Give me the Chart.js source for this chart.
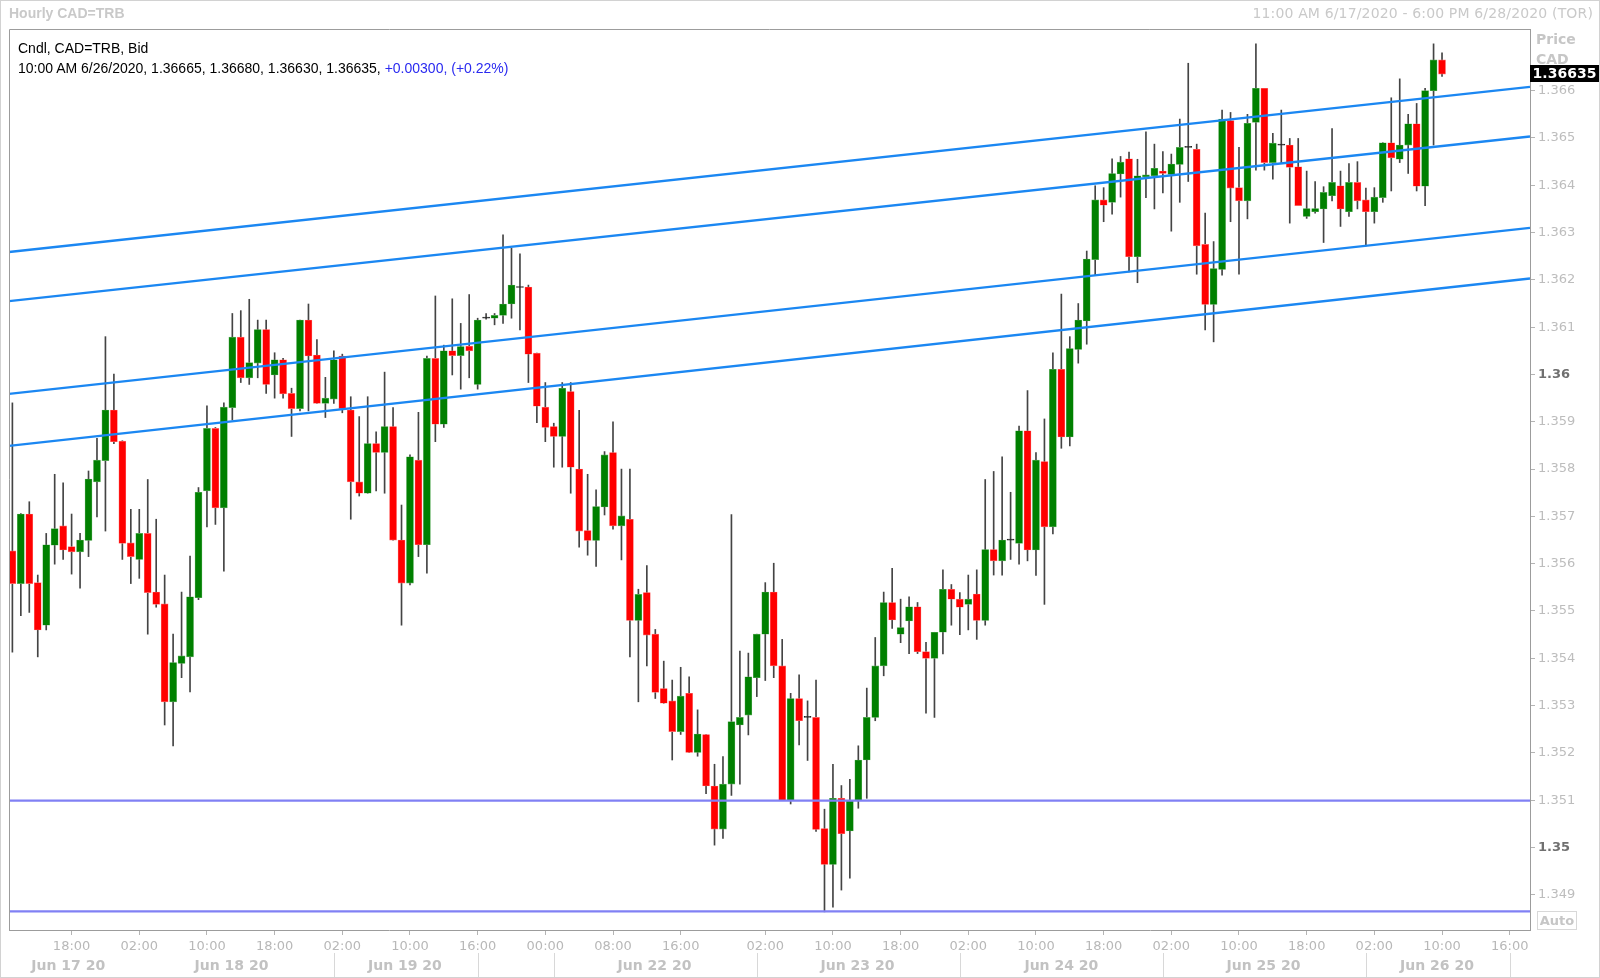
<!DOCTYPE html>
<html>
<head>
<meta charset="utf-8">
<title>Hourly CAD=TRB</title>
<script src="https://cdn.jsdelivr.net/npm/chart.js@4.4.1/dist/chart.umd.min.js"></script>
<style>
  html, body { margin: 0; padding: 0; background: #fff; }
  #wrap { position: relative; width: 1600px; height: 978px; overflow: hidden; background: #fff; }
  #chart { position: absolute; left: 0; top: 0; }
  #border { position: absolute; left: 0; top: 0; width: 1600px; height: 978px; box-sizing: border-box; border: 1px solid #d2d2d2; pointer-events: none; }
  .txt { position: absolute; white-space: nowrap; line-height: 16px; }
  #title { left: 9px; top: 5px; font: bold 14px "Liberation Sans", Arial, sans-serif; color: #c9c9c9; }
  #range { right: 7px; top: 5px; font: 14px "DejaVu Sans", Verdana, sans-serif; color: #c9c9c9; letter-spacing: 0.15px; }
  #legend1 { left: 18px; top: 40px; font: 14px "Liberation Sans", Arial, sans-serif; color: #000; }
  #legend2 { left: 18px; top: 60px; font: 14px "Liberation Sans", Arial, sans-serif; color: #000; }
  #legend2 span { color: #2a2af0; }
  .axtitle { left: 1536px; font: bold 14px "DejaVu Sans", Verdana, sans-serif; color: #c6c6c6; }
  #tag { position: absolute; left: 1530px; top: 65px; width: 69px; height: 17px; background: #000; color: #fff;
         font: bold 14px "DejaVu Sans", Verdana, sans-serif; line-height: 17px; text-align: center; }
  #auto { position: absolute; left: 1537px; top: 911px; width: 38px; height: 17px; border: 1px solid #d8d8d8;
          font: bold 13px "DejaVu Sans", Verdana, sans-serif; color: #c6c6c6; line-height: 17px; text-align: center; }
</style>
</head>
<body>
<div id="wrap">
  <canvas id="chart" width="1600" height="978"></canvas>
  <div id="border"></div>
  <div class="txt" id="title">Hourly CAD=TRB</div>
  <div class="txt" id="range">11:00 AM 6/17/2020 - 6:00 PM 6/28/2020 (TOR)</div>
  <div class="txt" id="legend1">Cndl, CAD=TRB, Bid</div>
  <div class="txt" id="legend2">10:00 AM 6/26/2020, 1.36665, 1.36680, 1.36630, 1.36635, <span>+0.00300, (+0.22%)</span></div>
  <div class="txt axtitle" style="top:31px">Price</div>
  <div class="txt axtitle" style="top:51px">CAD</div>
  <div id="tag">1.36635</div>
  <div id="auto">Auto</div>
</div>
<script>
// hourly candles, 11:00 6/17 .. 10:00 6/26 (weekend skipped)
const open = [
  1.35627,1.35558,1.35705,1.35560,1.35470,1.35639,1.35680,1.35636,1.35625,1.35649,
  1.35773,1.35818,1.35925,1.35859,1.35644,1.35609,1.35664,1.35540,1.35515,1.35308,
  1.35389,1.35403,1.35528,1.35754,1.35886,1.35718,1.35930,1.36079,1.35993,1.36024,
  1.36095,1.35999,1.36031,1.35960,1.35928,1.36115,1.36041,1.35939,1.35948,1.36039,
  1.35925,1.35773,1.35749,1.35854,1.35835,1.35890,1.35650,1.35559,1.35819,1.35640,
  1.36034,1.35895,1.36050,1.36040,1.36060,1.35979,1.36119,1.36119,1.36125,1.36149,
  1.36184,1.36185,1.36045,1.35931,1.35890,1.35869,1.35964,1.35800,1.35670,1.35649,
  1.35720,1.35835,1.35680,1.35694,1.35480,1.35539,1.35451,1.35336,1.35310,1.35245,
  1.35326,1.35201,1.35239,1.35130,1.35039,1.35134,1.35259,1.35280,1.35359,1.35451,
  1.35540,1.35384,1.35099,1.35315,1.35275,1.35275,1.35040,1.34964,1.35104,1.35035,
  1.35099,1.35185,1.35275,1.35384,1.35518,1.35451,1.35479,1.35509,1.35414,1.35400,
  1.35455,1.35546,1.35525,1.35514,1.35536,1.35480,1.35630,1.35606,1.35650,1.35643,
  1.35881,1.35629,1.35816,1.35678,1.36011,1.35868,1.36053,1.36113,1.36243,1.36369,
  1.36364,1.36424,1.36456,1.36249,1.36418,1.36420,1.36430,1.36423,1.36444,1.36480,
  1.36476,1.36275,1.36148,1.36222,1.36537,1.36395,1.36367,1.36533,1.36605,1.36448,
  1.36485,1.36485,1.36439,1.36334,1.36344,1.36350,1.36378,1.36399,1.36344,1.36406,
  1.36369,1.36344,1.36374,1.36490,1.36455,1.36485,1.36530,1.36398,1.36600,1.36665
];
const high = [
  1.35940,1.35706,1.35731,1.35576,1.35664,1.35789,1.35771,1.35705,1.35664,1.35796,
  1.35865,1.36080,1.36001,1.35860,1.35715,1.35715,1.35778,1.35694,1.35576,1.35451,
  1.35540,1.35616,1.35761,1.35934,1.35888,1.35940,1.36129,1.36135,1.36159,1.36115,
  1.36115,1.36046,1.36034,1.35971,1.36115,1.36149,1.36074,1.35994,1.36050,1.36043,
  1.35953,1.35911,1.35953,1.35879,1.36005,1.35930,1.35724,1.35830,1.35920,1.36039,
  1.36166,1.36062,1.36160,1.36108,1.36169,1.36119,1.36129,1.36129,1.36295,1.36267,
  1.36255,1.36189,1.36045,1.35983,1.35897,1.35983,1.35983,1.35924,1.35789,1.35756,
  1.35837,1.35900,1.35800,1.35800,1.35546,1.35596,1.35461,1.35394,1.35354,1.35381,
  1.35361,1.35291,1.35239,1.35176,1.35192,1.35704,1.35415,1.35411,1.35451,1.35560,
  1.35601,1.35440,1.35326,1.35365,1.35310,1.35354,1.35081,1.35176,1.35131,1.35144,
  1.35215,1.35337,1.35444,1.35540,1.35590,1.35525,1.35530,1.35518,1.35434,1.35455,
  1.35587,1.35556,1.35539,1.35576,1.35587,1.35778,1.35795,1.35826,1.35751,1.35891,
  1.35966,1.35835,1.35906,1.36046,1.36170,1.36080,1.36150,1.36261,1.36399,1.36395,
  1.36456,1.36461,1.36470,1.36455,1.36513,1.36487,1.36471,1.36466,1.36540,1.36658,
  1.36487,1.36341,1.36281,1.36559,1.36554,1.36480,1.36550,1.36699,1.36605,1.36510,
  1.36559,1.36499,1.36499,1.36430,1.36408,1.36397,1.36520,1.36430,1.36446,1.36450,
  1.36394,1.36395,1.36490,1.36585,1.36625,1.36550,1.36573,1.36605,1.36699,1.36680
];
const low = [
  1.35413,1.35490,1.35497,1.35403,1.35460,1.35599,1.35609,1.35578,1.35548,1.35615,
  1.35699,1.35669,1.35854,1.35609,1.35558,1.35569,1.35451,1.35508,1.35259,1.35215,
  1.35359,1.35329,1.35524,1.35678,1.35683,1.35584,1.35904,1.35983,1.35979,1.35993,
  1.35960,1.35950,1.35950,1.35869,1.35923,1.35923,1.35939,1.35909,1.35939,1.35919,
  1.35694,1.35743,1.35749,1.35754,1.35749,1.35650,1.35470,1.35555,1.35615,1.35580,
  1.35858,1.35888,1.35999,1.35969,1.35993,1.35969,1.36117,1.36105,1.36108,1.36119,
  1.36094,1.35983,1.35898,1.35858,1.35804,1.35804,1.35749,1.35635,1.35618,1.35594,
  1.35703,1.35673,1.35608,1.35403,1.35308,1.35384,1.35315,1.35305,1.35185,1.35239,
  1.35201,1.35193,1.35114,1.35005,1.35019,1.35110,1.35134,1.35238,1.35319,1.35353,
  1.35359,1.35099,1.35092,1.35217,1.35184,1.35034,1.34864,1.34874,1.34910,1.34935,
  1.35083,1.35104,1.35268,1.35363,1.35463,1.35433,1.35410,1.35410,1.35284,1.35275,
  1.35409,1.35470,1.35450,1.35460,1.35440,1.35470,1.35576,1.35576,1.35609,1.35599,
  1.35606,1.35575,1.35514,1.35663,1.35844,1.35849,1.36024,1.36064,1.36210,1.36323,
  1.36339,1.36375,1.36217,1.36194,1.36374,1.36350,1.36384,1.36303,1.36364,1.36408,
  1.36212,1.36094,1.36069,1.36210,1.36323,1.36212,1.36329,1.36432,1.36432,1.36413,
  1.36446,1.36320,1.36357,1.36330,1.36341,1.36279,1.36367,1.36313,1.36334,1.36350,
  1.36272,1.36320,1.36364,1.36388,1.36448,1.36425,1.36388,1.36357,1.36485,1.36630
];
const close = [
  1.35558,1.35705,1.35558,1.35460,1.35640,1.35674,1.35629,1.35625,1.35650,1.35779,
  1.35819,1.35925,1.35858,1.35643,1.35615,1.35664,1.35539,1.35514,1.35308,1.35391,
  1.35405,1.35530,1.35751,1.35886,1.35718,1.35931,1.36079,1.35993,1.36025,1.36095,
  1.35979,1.36031,1.35959,1.35928,1.36115,1.36039,1.35939,1.35950,1.36031,1.35928,
  1.35773,1.35749,1.35854,1.35835,1.35890,1.35650,1.35559,1.35826,1.35640,1.36034,
  1.35895,1.36050,1.36040,1.36059,1.36050,1.36115,1.36119,1.36125,1.36149,1.36189,
  1.36184,1.36043,1.35933,1.35888,1.35869,1.35971,1.35804,1.35669,1.35649,1.35721,
  1.35830,1.35680,1.35701,1.35480,1.35535,1.35449,1.35328,1.35305,1.35245,1.35320,
  1.35201,1.35240,1.35130,1.35039,1.35134,1.35266,1.35275,1.35361,1.35451,1.35540,
  1.35384,1.35099,1.35315,1.35268,1.35275,1.35038,1.34964,1.35104,1.35029,1.35099,
  1.35185,1.35275,1.35384,1.35518,1.35481,1.35465,1.35509,1.35414,1.35400,1.35455,
  1.35546,1.35525,1.35508,1.35525,1.35480,1.35630,1.35606,1.35650,1.35650,1.35881,
  1.35629,1.35819,1.35678,1.36011,1.35868,1.36055,1.36115,1.36244,1.36369,1.36358,
  1.36425,1.36449,1.36249,1.36420,1.36422,1.36436,1.36425,1.36445,1.36480,1.36480,
  1.36272,1.36148,1.36224,1.36540,1.36394,1.36367,1.36531,1.36605,1.36448,1.36489,
  1.36485,1.36438,1.36357,1.36351,1.36351,1.36385,1.36406,1.36350,1.36406,1.36367,
  1.36344,1.36375,1.36490,1.36458,1.36485,1.36530,1.36398,1.36600,1.36665,1.36635
];

// drawn channel (price at left edge / right edge of plot) and support levels
const channelLeft = [1.36259, 1.36155, 1.35959, 1.35849];
const channelRight = [1.36608, 1.36503, 1.36310, 1.36203];
const supportLevels = [1.35099, 1.34865];

// axis labels
const xTickIdx = [7, 15, 23, 31, 39, 47, 55, 63, 71, 79, 89, 97, 105, 113, 121, 129, 137, 145, 153, 161, 169, 177];
const xTickText = ['18:00','02:00','10:00','18:00','02:00','10:00','16:00','00:00','08:00','16:00','02:00',
                   '10:00','18:00','02:00','10:00','18:00','02:00','10:00','18:00','02:00','10:00','16:00'];
const dayText = ['Jun 17 20','Jun 18 20','Jun 19 20','Jun 22 20','Jun 23 20','Jun 24 20','Jun 25 20','Jun 26 20'];
const dayCenter = [6.6, 25.9, 46.4, 75.9, 99.9, 124, 147.9, 168.4];
const dayBreak = [38, 55, 64, 88, 112, 136, 160, 177];
const yTicks = [1.349,1.350,1.351,1.352,1.353,1.354,1.355,1.356,1.357,1.358,1.359,1.360,
                1.361,1.362,1.363,1.364,1.365,1.366];

const X_MIN = -0.4, X_MAX = 179.4;
const Y_MIN = 1.348256, Y_MAX = 1.367304;

const UP = '#008000', DOWN = '#ff0000', FLAT = '#222222';
const UP_EDGE = '#63b063', DOWN_EDGE = '#ff7a7a';
const candleColor = open.map((o, i) => close[i] > o ? UP : (close[i] < o ? DOWN : FLAT));
const candleEdge = open.map((o, i) => close[i] > o ? UP_EDGE : (close[i] < o ? DOWN_EDGE : FLAT));

const isRound = v => Math.abs(v * 100 - Math.round(v * 100)) < 1e-6;
const tickRound = ctx => !!(ctx && ctx.tick && isRound(ctx.tick.value));

const datasets = [];
channelLeft.forEach((v, k) => {
    datasets.push({
        type: 'line',
        data: [{x: X_MIN, y: v}, {x: X_MAX, y: channelRight[k]}],
        borderColor: '#1b87f2', borderWidth: 2.4, pointRadius: 0, order: 0
    });
});
supportLevels.forEach(v => {
    datasets.push({
        type: 'line',
        data: [{x: X_MIN, y: v}, {x: X_MAX, y: v}],
        borderColor: '#8080f4', borderWidth: 2.2, pointRadius: 0, order: 0
    });
});
datasets.push({
    type: 'bar',
    data: open.map((o, i) => ({x: i, y: [o, close[i]]})),
    backgroundColor: candleColor,
    borderColor: candleEdge,
    borderWidth: 0.6,
    borderSkipped: false,
    barThickness: 7,
    minBarLength: 1,
    grouped: false,
    order: 1
});
datasets.push({
    type: 'bar',
    data: low.map((l, i) => ({x: i, y: [l, high[i]]})),
    backgroundColor: '#444444',
    borderWidth: 0,
    barThickness: 1,
    grouped: false,
    order: 2
});

// left/top edges of the plot frame + the date row under the time ticks
const framePlugin = {
    id: 'frame',
    afterDraw(chart) {
        const {ctx, chartArea: a, scales: {x}} = chart;
        ctx.save();
        ctx.strokeStyle = '#9c9c9c';
        ctx.lineWidth = 1;
        ctx.beginPath();
        ctx.moveTo(a.left + 0.5, a.bottom);
        ctx.lineTo(a.left + 0.5, a.top + 0.5);
        ctx.lineTo(a.right, a.top + 0.5);
        ctx.stroke();

        ctx.strokeStyle = '#d8d8d8';
        dayBreak.forEach(d => {
            const px = Math.round(x.getPixelForValue(d)) + 0.5;
            ctx.beginPath();
            ctx.moveTo(px, 953);
            ctx.lineTo(px, 977);
            ctx.stroke();
        });

        ctx.fillStyle = '#c2c2c2';
        ctx.font = 'bold 14px "DejaVu Sans"';
        ctx.textAlign = 'center';
        ctx.textBaseline = 'middle';
        dayText.forEach((t, k) => {
            ctx.fillText(t, x.getPixelForValue(dayCenter[k]), 966);
        });
        ctx.restore();
    }
};

new Chart(document.getElementById('chart'), {
    type: 'bar',
    data: {datasets},
    options: {
        responsive: false,
        animation: false,
        devicePixelRatio: 1,
        layout: {padding: {left: 9, top: 29, right: 0, bottom: 0}},
        plugins: {legend: {display: false}, tooltip: {enabled: false}},
        scales: {
            x: {
                type: 'linear',
                min: X_MIN,
                max: X_MAX,
                offset: false,
                afterBuildTicks: s => { s.ticks = xTickIdx.map(v => ({value: v})); },
                afterFit: s => { s.height = 48; },
                ticks: {
                    autoSkip: false,
                    maxRotation: 0,
                    padding: 4,
                    color: '#b8b8b8',
                    font: {family: 'DejaVu Sans', size: 13},
                    callback: v => {
                        const k = xTickIdx.indexOf(v);
                        return k >= 0 ? xTickText[k] : '';
                    }
                },
                grid: {drawOnChartArea: false, offset: false, tickLength: 5, color: '#b4b4b4'},
                border: {color: '#9c9c9c'}
            },
            y: {
                type: 'linear',
                position: 'right',
                min: Y_MIN,
                max: Y_MAX,
                afterBuildTicks: s => { s.ticks = yTicks.map(v => ({value: v})); },
                afterFit: s => { s.width = 70; },
                ticks: {
                    autoSkip: false,
                    padding: 3,
                    color: ctx => tickRound(ctx) ? '#707070' : '#bdbdbd',
                    font: ctx => ({family: 'DejaVu Sans', size: 13, weight: tickRound(ctx) ? 'bold' : 'normal'}),
                    callback: v => isRound(v) ? v.toFixed(2) : v.toFixed(3)
                },
                grid: {drawOnChartArea: false, tickLength: 5, color: '#b4b4b4'},
                border: {color: '#9c9c9c'}
            }
        }
    },
    plugins: [framePlugin]
});
</script>
</body>
</html>
